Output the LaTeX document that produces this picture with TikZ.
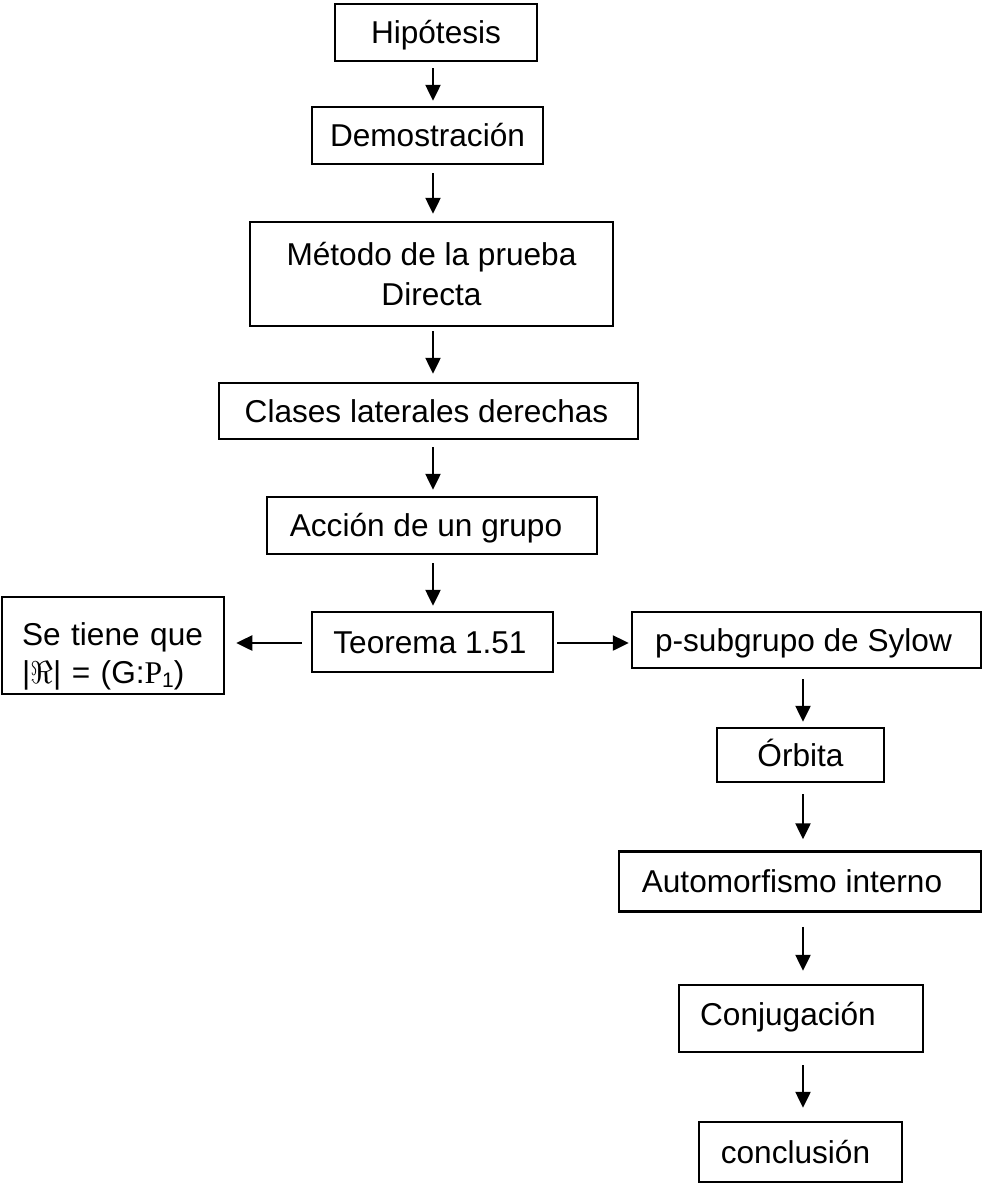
\RequirePackage{fix-cm}
\documentclass[tikz,border=0pt]{standalone}
\usepackage{fontspec}
\setmainfont{Liberation Sans}
\newfontfamily\serifP{Liberation Serif}
\usetikzlibrary{arrows.meta}
\begin{document}
\begin{tikzpicture}[x=1pt,y=-1pt,
  box/.style={draw, line width=2.5pt, inner sep=0pt, align=center,
    font=\fontsize{31.6}{40}\selectfont},
  one/.style={box, text height=22pt, text depth=0pt},
  arr/.style={line width=2.5pt, -{Triangle[length=16pt,width=15pt]}}]
\useasboundingbox (0,0) rectangle (982,1184);
\coordinate (cx) at (433,0);
\coordinate (rx) at (803,0);
\coordinate (ry) at (0,643);
\node[one, minimum width=202, minimum height=57] (h) at (436,32.5) {Hipótesis};
\node[one, minimum width=231, minimum height=57] (d) at (427.5,135.5) {Demostración};
\node[box, minimum width=363, minimum height=104] (m) at (431.5,274) {Método de la prueba\\Directa};
\node[one, minimum width=419, minimum height=56] (c) at (428.5,411) {Clases laterales derechas\hspace*{4pt}};
\node[one, minimum width=330, minimum height=57] (a) at (432,525.5) {Acción de un grupo\hspace*{12pt}};
\node[one, minimum width=241, minimum height=60] (t) at (432.5,642) {Teorema 1.51\hspace*{5pt}};
\node[box, font=\fontsize{31.6}{38}\selectfont, minimum width=222, minimum height=97, align=left, text width=182pt, text height=22pt, text depth=22pt] (s) at (113,645.5) {Se tiene que\\|$\Re$| = (G:{\serifP P}\raisebox{-4pt}{\fontsize{21}{21}\selectfont 1})};
\node[one, minimum width=349, minimum height=56] (p) at (806.5,640) {p-subgrupo de Sylow\hspace*{6pt}};
\node[one, minimum width=167, minimum height=54] (o) at (800.5,755) {Órbita};
\node[one, minimum width=362, minimum height=60] (au) at (800,881.5) {Automorfismo interno\hspace*{16pt}};
\node[one, text depth=9pt, minimum width=244, minimum height=67] (cj) at (801,1018.5) {Conjugación\hspace*{26pt}};
\node[one, minimum width=203, minimum height=60] (cl) at (800.5,1152) {conclusión\hspace*{10pt}};
\draw[arr, shorten <=6pt, shorten >=5pt] (h.south -| cx) -- (d.north -| cx);
\draw[arr, shorten <=8pt, shorten >=7pt] (d.south -| cx) -- (m.north -| cx);
\draw[arr, shorten <=4pt, shorten >=8pt] (m.south -| cx) -- (c.north -| cx);
\draw[arr, shorten <=7pt, shorten >=6pt] (c.south -| cx) -- (a.north -| cx);
\draw[arr, shorten <=8pt, shorten >=5pt] (a.south -| cx) -- (t.north -| cx);
\draw[arr, shorten <=9pt, shorten >=11pt] (t.west |- ry) -- (s.east |- ry);
\draw[arr, shorten <=3pt, shorten >=2pt] (t.east |- ry) -- (p.west |- ry);
\draw[arr, shorten <=10pt, shorten >=5pt] (p.south -| rx) -- (o.north -| rx);
\draw[arr, shorten <=11pt, shorten >=11pt] (o.south -| rx) -- (au.north -| rx);
\draw[arr, shorten <=14pt, shorten >=13pt] (au.south -| rx) -- (cj.north -| rx);
\draw[arr, shorten <=12pt, shorten >=13pt] (cj.south -| rx) -- (cl.north -| rx);
\end{tikzpicture}
\end{document}
